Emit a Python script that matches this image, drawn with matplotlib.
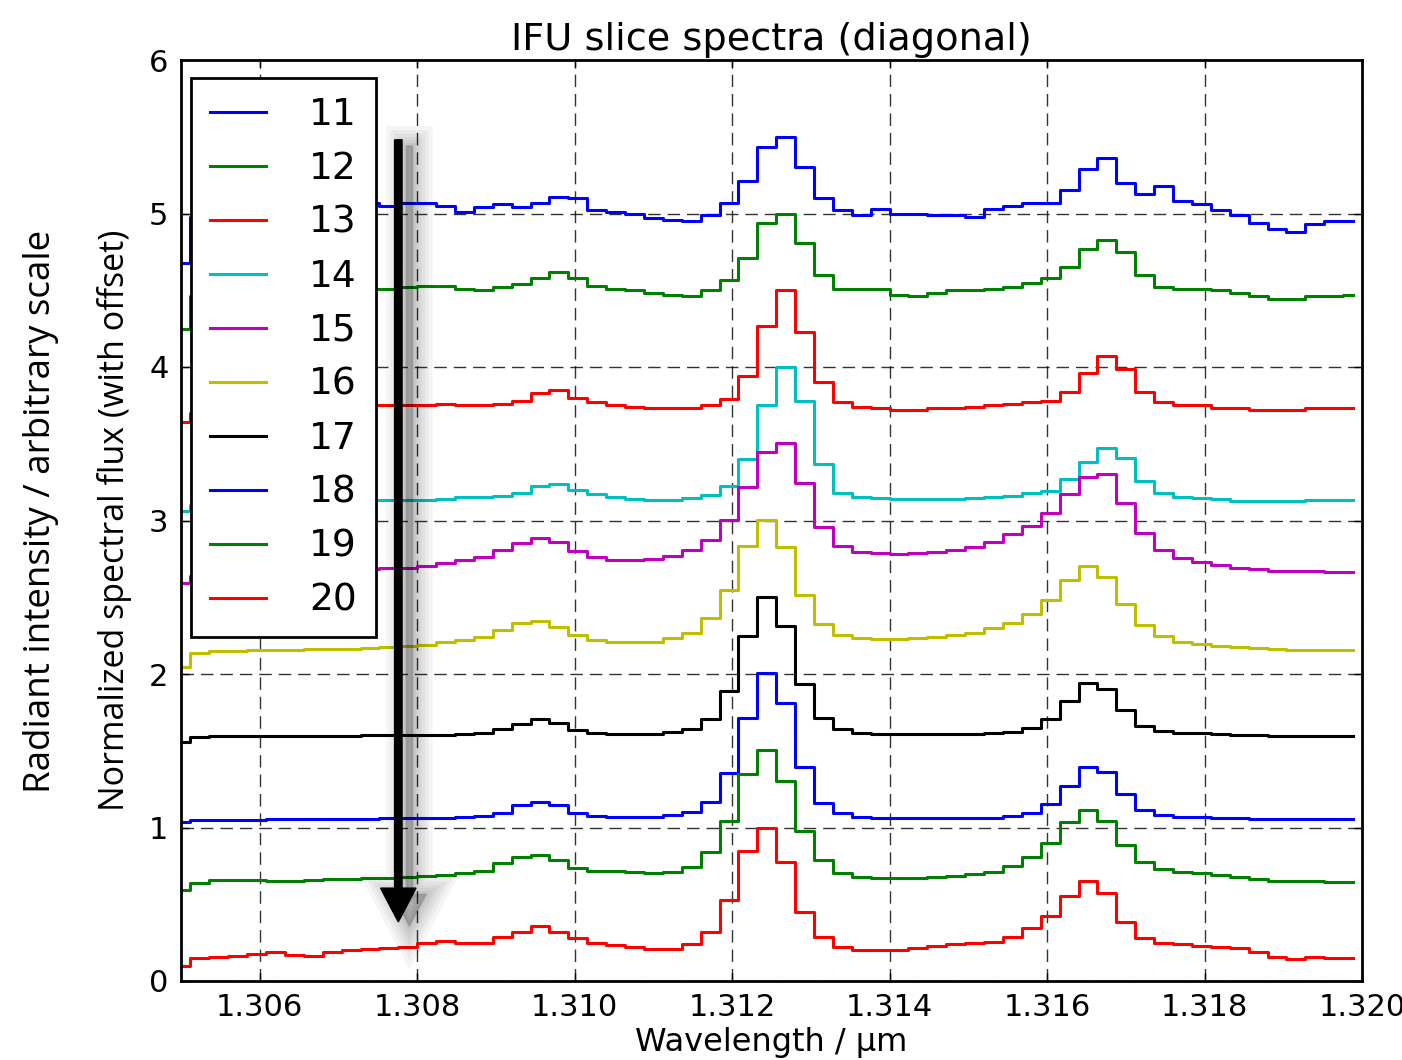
import numpy as np
import matplotlib
matplotlib.use('Agg')
import matplotlib.pyplot as plt
from matplotlib.ticker import FormatStrFormatter
from matplotlib.patches import FancyArrow
import matplotlib.patheffects as pe

# wavelength grid (um), 63 pixels
wl_start = 1.305
wl_step = 0.00024
n_pix = 63
wavelength = wl_start + wl_step * np.arange(n_pix)

slices = ['11', '12', '13', '14', '15', '16', '17', '18', '19', '20']
colors = ['b', 'g', 'r', 'c', 'm', 'y', 'k', 'b', 'g', 'r']

s11 = [4.68, 4.98, 5.00, 5.01, 5.02, 5.03, 5.04, 5.05, 5.06, 5.06,
       5.07, 5.05, 5.07, 5.07, 5.05, 5.01, 5.04, 5.06, 5.04, 5.07,
       5.11, 5.10, 5.02, 5.01, 5.00, 4.97, 4.96, 4.95, 4.99, 5.07,
       5.21, 5.43, 5.50, 5.30, 5.10, 5.02, 4.99, 5.03, 5.00, 5.00,
       4.99, 4.99, 4.98, 5.03, 5.05, 5.07, 5.07, 5.15, 5.29, 5.36,
       5.20, 5.13, 5.18, 5.08, 5.06, 5.02, 4.99, 4.94, 4.90, 4.88,
       4.93, 4.95, 4.95]
s12 = [4.25, 4.46, 4.48, 4.49, 4.50, 4.50, 4.50, 4.51, 4.51, 4.51,
       4.51, 4.51, 4.52, 4.53, 4.53, 4.51, 4.50, 4.52, 4.54, 4.58,
       4.62, 4.58, 4.53, 4.51, 4.50, 4.48, 4.47, 4.46, 4.50, 4.57,
       4.71, 4.94, 5.00, 4.81, 4.60, 4.51, 4.51, 4.51, 4.47, 4.46,
       4.48, 4.50, 4.50, 4.51, 4.52, 4.55, 4.58, 4.65, 4.77, 4.83,
       4.75, 4.60, 4.52, 4.51, 4.51, 4.50, 4.48, 4.46, 4.44, 4.44,
       4.46, 4.46, 4.47]
s13 = [3.64, 3.70, 3.72, 3.73, 3.73, 3.74, 3.74, 3.74, 3.745, 3.748,
       3.75, 3.75, 3.75, 3.75, 3.76, 3.75, 3.75, 3.76, 3.78, 3.83,
       3.85, 3.80, 3.77, 3.75, 3.74, 3.73, 3.73, 3.73, 3.75, 3.79,
       3.94, 4.27, 4.50, 4.23, 3.90, 3.77, 3.74, 3.735, 3.72, 3.72,
       3.73, 3.735, 3.74, 3.75, 3.76, 3.77, 3.78, 3.84, 3.96, 4.07,
       3.99, 3.84, 3.77, 3.75, 3.75, 3.735, 3.73, 3.72, 3.72, 3.72,
       3.735, 3.73, 3.73]
s14 = [3.06, 3.10, 3.11, 3.12, 3.12, 3.125, 3.13, 3.13, 3.13, 3.133,
       3.133, 3.133, 3.133, 3.133, 3.14, 3.15, 3.15, 3.16, 3.18, 3.225,
       3.24, 3.20, 3.17, 3.15, 3.14, 3.133, 3.133, 3.144, 3.166, 3.225,
       3.40, 3.75, 4.00, 3.78, 3.37, 3.18, 3.155, 3.144, 3.138, 3.138,
       3.138, 3.138, 3.144, 3.151, 3.16, 3.177, 3.19, 3.27, 3.38, 3.47,
       3.41, 3.26, 3.18, 3.15, 3.144, 3.138, 3.13, 3.13, 3.127, 3.127,
       3.131, 3.131, 3.131]
s15 = [2.595, 2.64, 2.65, 2.66, 2.66, 2.67, 2.67, 2.675, 2.68, 2.68,
       2.685, 2.688, 2.688, 2.704, 2.725, 2.743, 2.76, 2.81, 2.856, 2.884,
       2.862, 2.804, 2.76, 2.743, 2.743, 2.747, 2.769, 2.808, 2.873, 3.003,
       3.216, 3.448, 3.503, 3.242, 2.96, 2.834, 2.797, 2.786, 2.782, 2.786,
       2.797, 2.808, 2.83, 2.862, 2.912, 2.964, 3.05, 3.173, 3.286, 3.303,
       3.116, 2.921, 2.808, 2.753, 2.727, 2.71, 2.693, 2.682, 2.673, 2.671,
       2.671, 2.662, 2.662]
s16 = [2.048, 2.139, 2.150, 2.152, 2.154, 2.156, 2.158, 2.161, 2.163, 2.165,
       2.170, 2.174, 2.180, 2.187, 2.206, 2.221, 2.239, 2.287, 2.330, 2.347,
       2.308, 2.254, 2.221, 2.211, 2.206, 2.211, 2.237, 2.269, 2.362, 2.547,
       2.834, 3.003, 2.830, 2.515, 2.326, 2.254, 2.232, 2.226, 2.226, 2.232,
       2.239, 2.254, 2.269, 2.297, 2.330, 2.389, 2.482, 2.612, 2.704, 2.634,
       2.456, 2.319, 2.248, 2.211, 2.196, 2.183, 2.174, 2.167, 2.161, 2.156,
       2.156, 2.156, 2.156]
s17 = [1.555, 1.587, 1.596, 1.596, 1.596, 1.597, 1.597, 1.598, 1.598, 1.599,
       1.600, 1.600, 1.601, 1.603, 1.603, 1.609, 1.618, 1.640, 1.674, 1.705,
       1.679, 1.635, 1.613, 1.607, 1.607, 1.607, 1.620, 1.640, 1.705, 1.891,
       2.248, 2.504, 2.313, 1.933, 1.711, 1.640, 1.613, 1.607, 1.607, 1.607,
       1.607, 1.607, 1.607, 1.613, 1.624, 1.646, 1.706, 1.824, 1.939, 1.902,
       1.765, 1.663, 1.631, 1.618, 1.613, 1.607, 1.601, 1.601, 1.596, 1.596,
       1.596, 1.596, 1.596]
s18 = [1.034, 1.049, 1.050, 1.051, 1.052, 1.053, 1.054, 1.055, 1.056, 1.057,
       1.058, 1.059, 1.060, 1.062, 1.064, 1.066, 1.075, 1.092, 1.147, 1.168,
       1.147, 1.097, 1.077, 1.066, 1.066, 1.066, 1.081, 1.103, 1.164, 1.353,
       1.716, 2.004, 1.813, 1.396, 1.162, 1.092, 1.071, 1.060, 1.060, 1.060,
       1.060, 1.060, 1.064, 1.064, 1.077, 1.097, 1.150, 1.270, 1.392, 1.364,
       1.218, 1.114, 1.081, 1.071, 1.066, 1.060, 1.060, 1.053, 1.053, 1.053,
       1.053, 1.053, 1.053]
s19 = [0.593, 0.641, 0.656, 0.658, 0.660, 0.650, 0.650, 0.656, 0.662, 0.664,
       0.668, 0.674, 0.678, 0.682, 0.691, 0.701, 0.719, 0.767, 0.810, 0.821,
       0.788, 0.738, 0.719, 0.719, 0.712, 0.701, 0.708, 0.745, 0.843, 1.045,
       1.349, 1.505, 1.303, 0.977, 0.788, 0.706, 0.680, 0.673, 0.673, 0.673,
       0.680, 0.686, 0.695, 0.712, 0.749, 0.810, 0.897, 1.038, 1.114, 1.045,
       0.886, 0.778, 0.728, 0.712, 0.701, 0.691, 0.680, 0.665, 0.654, 0.652,
       0.652, 0.643, 0.643]
s20 = [0.098, 0.148, 0.159, 0.163, 0.176, 0.187, 0.170, 0.165, 0.187, 0.202,
       0.206, 0.213, 0.224, 0.245, 0.263, 0.250, 0.250, 0.289, 0.317, 0.358,
       0.321, 0.278, 0.250, 0.235, 0.219, 0.206, 0.206, 0.241, 0.321, 0.528,
       0.849, 0.999, 0.778, 0.452, 0.285, 0.224, 0.202, 0.202, 0.202, 0.213,
       0.228, 0.239, 0.245, 0.256, 0.289, 0.343, 0.424, 0.556, 0.654, 0.571,
       0.387, 0.278, 0.250, 0.239, 0.230, 0.224, 0.213, 0.187, 0.159, 0.144,
       0.154, 0.152, 0.152]
spectra = [s11, s12, s13, s14, s15, s16, s17, s18, s19, s20]

# arrow (data coords): x position, top and tip
arrow_x = 1.30776
arrow_top = 5.48
arrow_tip = 0.385

fig = plt.figure(figsize=(14.02, 10.60), dpi=100)
ax = fig.add_axes([181 / 1402, 79 / 1060, 1181 / 1402, 921 / 1060])

for name, c, s in zip(slices, colors, spectra):
    ax.plot(wavelength, s, drawstyle='steps-mid', color=c, lw=2.2, label=name)

ax.set_xlim(1.305, 1.320)
ax.set_ylim(0, 6)
ax.set_xticks(np.arange(1.306, 1.3201, 0.002))
ax.set_yticks(range(7))
ax.xaxis.set_major_formatter(FormatStrFormatter('%.3f'))
ax.tick_params(direction='in', length=6, width=1, labelsize=22, pad=9,
               top=True, right=True)
for sp in ax.spines.values():
    sp.set_linewidth(2)
ax.grid(True, color='k', linestyle=(0, (9, 5)), linewidth=1.0, alpha=0.8)

ax.set_title('IFU slice spectra (diagonal)', fontsize=27.5, pad=7)
ax.set_xlabel('Wavelength / \u00b5m', fontsize=23, labelpad=3)

# black arrow with a soft shadow to the right
dy = arrow_tip - arrow_top
arr = FancyArrow(arrow_x, arrow_top, 0, dy, width=0.000095, head_width=0.00045,
                 head_length=0.22, length_includes_head=True, color='k', zorder=4)
shadow = [pe.Stroke(offset=(8, -4), linewidth=w, foreground='k', alpha=0.04)
          for w in (28, 22, 17, 12, 8, 4)]
arr.set_path_effects(shadow + [pe.Normal()])
ax.add_patch(arr)

leg = ax.legend(loc='upper left', bbox_to_anchor=(0.0085, 0.9805), borderaxespad=0,
                fontsize=27, handlelength=1.5, handletextpad=1.15, labelspacing=0.48,
                borderpad=0.5, fancybox=False, framealpha=1, edgecolor='k')
leg.get_frame().set_linewidth(2)

fig.text(0.029, 0.5175, 'Radiant intensity / arbitrary scale', rotation=90,
         ha='center', va='center', fontsize=26.5, family='Open Sans')
fig.text(0.082, 0.509, 'Normalized spectral flux (with offset)', rotation=90,
         ha='center', va='center', fontsize=24.5, family='Open Sans')

fig.savefig('out.png', dpi=100)
